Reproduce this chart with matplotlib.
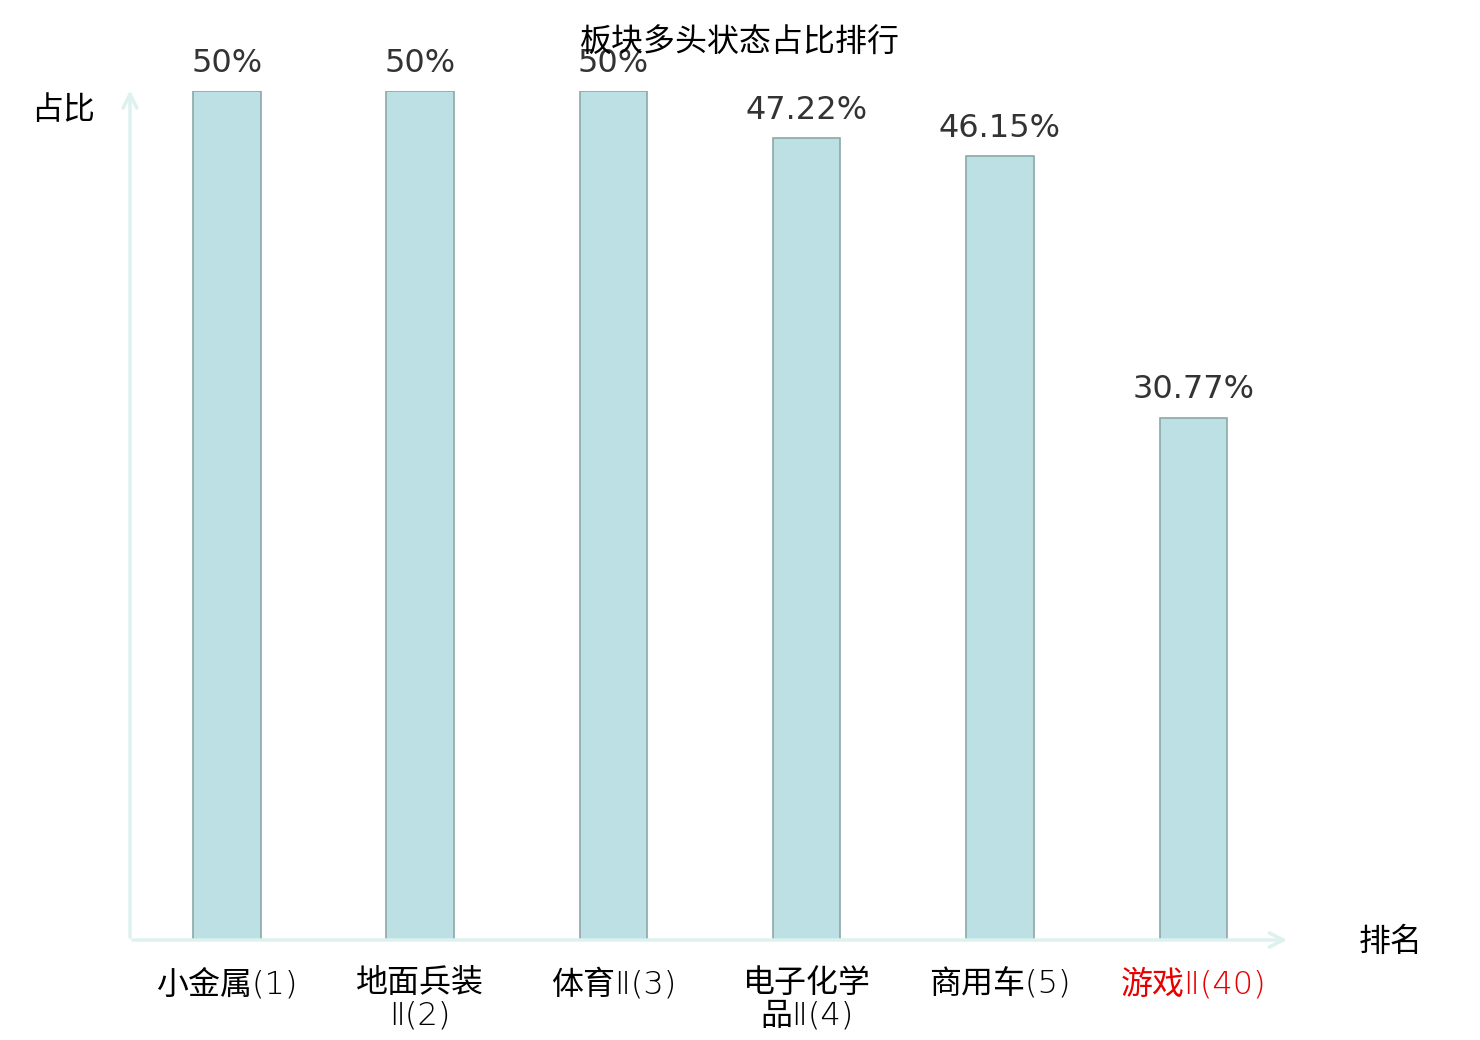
import matplotlib
matplotlib.use('Agg')
import matplotlib.pyplot as plt

plt.rcParams['font.family'] = ['Noto Sans CJK SC', 'DejaVu Sans']

# data
categories = ['小金属(1)', '地面兵装\nⅡ(2)', '体育Ⅱ(3)', '电子化学\n品Ⅱ(4)', '商用车(5)', '游戏Ⅱ(40)']
values = [50, 50, 50, 47.22, 46.15, 30.77]
value_labels = ['50%', '50%', '50%', '47.22%', '46.15%', '30.77%']
label_colors = ['black', 'black', 'black', 'black', 'black', '#e60000']

fig = plt.figure(figsize=(14.8, 10.4), dpi=100)
ax = fig.add_axes([130 / 1480, 1 - 940 / 1040, 1160 / 1480, (940 - 91) / 1040])

x = range(len(categories))
bars = ax.bar(x, values, width=0.35, color='#bce0e3', edgecolor='#8aa8a8', linewidth=1.2)

for xi, v, lab in zip(x, values, value_labels):
    ax.annotate(lab, (xi, v), xytext=(0, 9), textcoords='offset points',
                ha='center', va='bottom', fontsize=23, color='#333333',
                family='DejaVu Sans')

ax.set_xlim(-0.5, len(categories) - 0.5)
ax.set_ylim(0, 50)
ax.set_xticks(list(x))
ax.set_xticklabels(categories, fontsize=23, linespacing=1.12,
                   family=['DejaVu Sans', 'Noto Sans CJK SC'], fontweight='light')
for t, c in zip(ax.get_xticklabels(), label_colors):
    t.set_color(c)
ax.tick_params(axis='x', length=0, pad=20)
ax.set_yticks([])
for s in ax.spines.values():
    s.set_visible(False)

# axis arrows
axis_color = '#ddf1ee'
ax.annotate('', xy=(0, 1.004), xytext=(0, 0), xycoords='axes fraction',
            arrowprops=dict(arrowstyle='->', color=axis_color, lw=2.5, mutation_scale=25))
ax.annotate('', xy=(1.0, 0), xytext=(0, 0), xycoords='axes fraction',
            arrowprops=dict(arrowstyle='->', color=axis_color, lw=2.5, mutation_scale=25))

fig.text(63 / 1480, 1 - 110 / 1040, '占比', ha='center', va='center', fontsize=23)
fig.text(1391 / 1480, 1 - 942 / 1040, '排名', ha='center', va='center', fontsize=23)
fig.text(740 / 1480, 1 - 43 / 1040, '板块多头状态占比排行', ha='center', va='center', fontsize=23)

fig.savefig('out.png', dpi=100)
